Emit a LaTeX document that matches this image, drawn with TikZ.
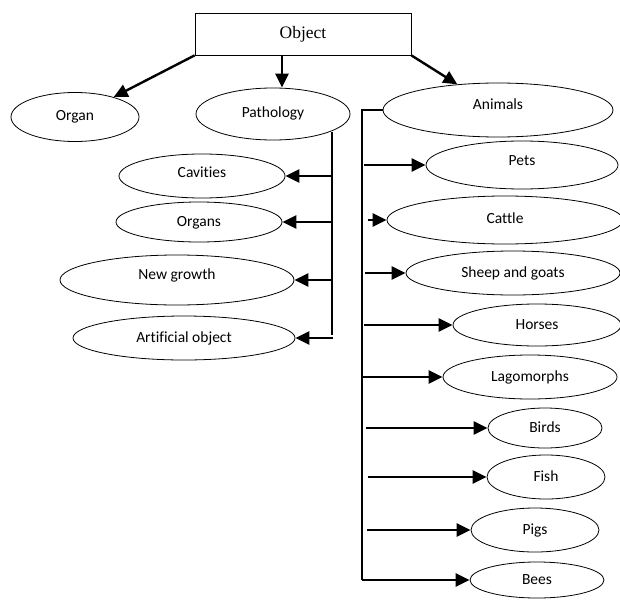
\documentclass[tikz,border=0pt]{standalone}
\usepackage{fontspec}
\setmainfont[Ligatures=NoCommon]{Carlito}
\newfontfamily\objfont{Liberation Serif}
\usetikzlibrary{shapes.geometric,arrows.meta}
\tikzset{
  ell/.style={draw, ellipse, line width=0.8pt, inner sep=0pt, text height=11pt, text depth=3pt, font=\fontsize{15.5}{18}\selectfont},
  arr/.style={line width=2.4pt, -{Triangle[length=14pt,width=13pt]}},
  bar/.style={line width=2pt},
}
\newcommand{\up}[2]{\raisebox{#1}{#2}}
\begin{document}
\begin{tikzpicture}[x=1pt,y=-1pt]
\useasboundingbox (0,0) rectangle (620,599);
\node[draw, line width=0.8pt, minimum width=216pt, minimum height=42pt, font=\objfont\fontsize{17.5}{20}\selectfont] (obj) at (303,34) {Object};
\node[ell, minimum width=128pt, minimum height=49pt] (organ) at (75,117) {Organ};
\node[ell, minimum width=154pt, minimum height=52pt] (pat) at (273,114) {\up{1pt}{Pathology}};
\node[ell, minimum width=230pt, minimum height=54pt] (ani) at (498,110) {\up{5pt}{Animals}};
% pathology children
\node[ell, minimum width=166pt, minimum height=44pt] (cav) at (202,176) {\up{3pt}{Cavities}};
\node[ell, minimum width=166pt, minimum height=40pt] (orgs) at (199,222) {Organs};
\node[ell, minimum width=234pt, minimum height=50pt] (ng) at (177,280) {\up{5pt}{New growth}};
\node[ell, minimum width=222pt, minimum height=44pt] (art) at (184,338) {Artificial object};
% animals children
\node[ell, minimum width=192pt, minimum height=48pt] (pets) at (522,165) {\up{4pt}{Pets}};
\node[ell, minimum width=236pt, minimum height=48pt] (cattle) at (505,220) {\up{1pt}{Cattle}};
\node[ell, minimum width=214pt, minimum height=44pt] (sheep) at (513,273) {Sheep and goats};
\node[ell, minimum width=168pt, minimum height=42pt] (horses) at (537,325) {Horses};
\node[ell, minimum width=174pt, minimum height=44pt] (lago) at (530,377) {Lagomorphs};
\node[ell, minimum width=114pt, minimum height=40pt] (birds) at (545,428) {Birds};
\node[ell, minimum width=118pt, minimum height=44pt] (fish) at (546,477) {Fish};
\node[ell, minimum width=128pt, minimum height=44pt] (pigs) at (535,530) {Pigs};
\node[ell, minimum width=134pt, minimum height=36pt] (bees) at (537,580) {Bees};
% top arrows
\draw[arr] (obj.south west) -- (organ);
\draw[arr] ([xshift=9pt]pat.north |- obj.south) -- ([xshift=9pt]pat.north);
\draw[arr] (obj.south east) -- (ani);
% pathology bracket
\coordinate (pt) at (332,132);
\coordinate (pb) at (332,335);
\draw[bar] (pt) -- (pb);
\coordinate (pc1) at (332,176);
\coordinate (pc2) at (332,222);
\coordinate (pc3) at (332,280);
\coordinate (pc4) at (333,338);
\draw[arr] (pc1) -- (cav.east);
\draw[arr] (pc2) -- (orgs.east);
\draw[arr] (pc3) -- (ng.east);
\draw[arr] (pc4) -- (art.east);
% animals bracket
\coordinate (at) at (362,110);
\coordinate (ab) at (362,580);
\draw[bar] (ani.west) -- (at) -- (ab);
\coordinate (a1) at (364,165);
\coordinate (a2) at (368,220);
\coordinate (a3) at (365,273);
\coordinate (a4) at (364,325);
\coordinate (a5) at (362,377);
\coordinate (a6) at (366,428);
\coordinate (a7) at (368,477);
\coordinate (a8) at (367,530);
\draw[arr] (a1) -- (pets.west);
\draw[arr] (a2) -- (cattle.west);
\draw[arr] (a3) -- (sheep.west);
\draw[arr] (a4) -- (horses.west);
\draw[arr] (a5) -- (lago.west);
\draw[arr] (a6) -- (birds.west);
\draw[arr] (a7) -- (fish.west);
\draw[arr] (a8) -- (pigs.west);
\draw[arr] (ab) -- (bees.west);
\end{tikzpicture}
\end{document}
